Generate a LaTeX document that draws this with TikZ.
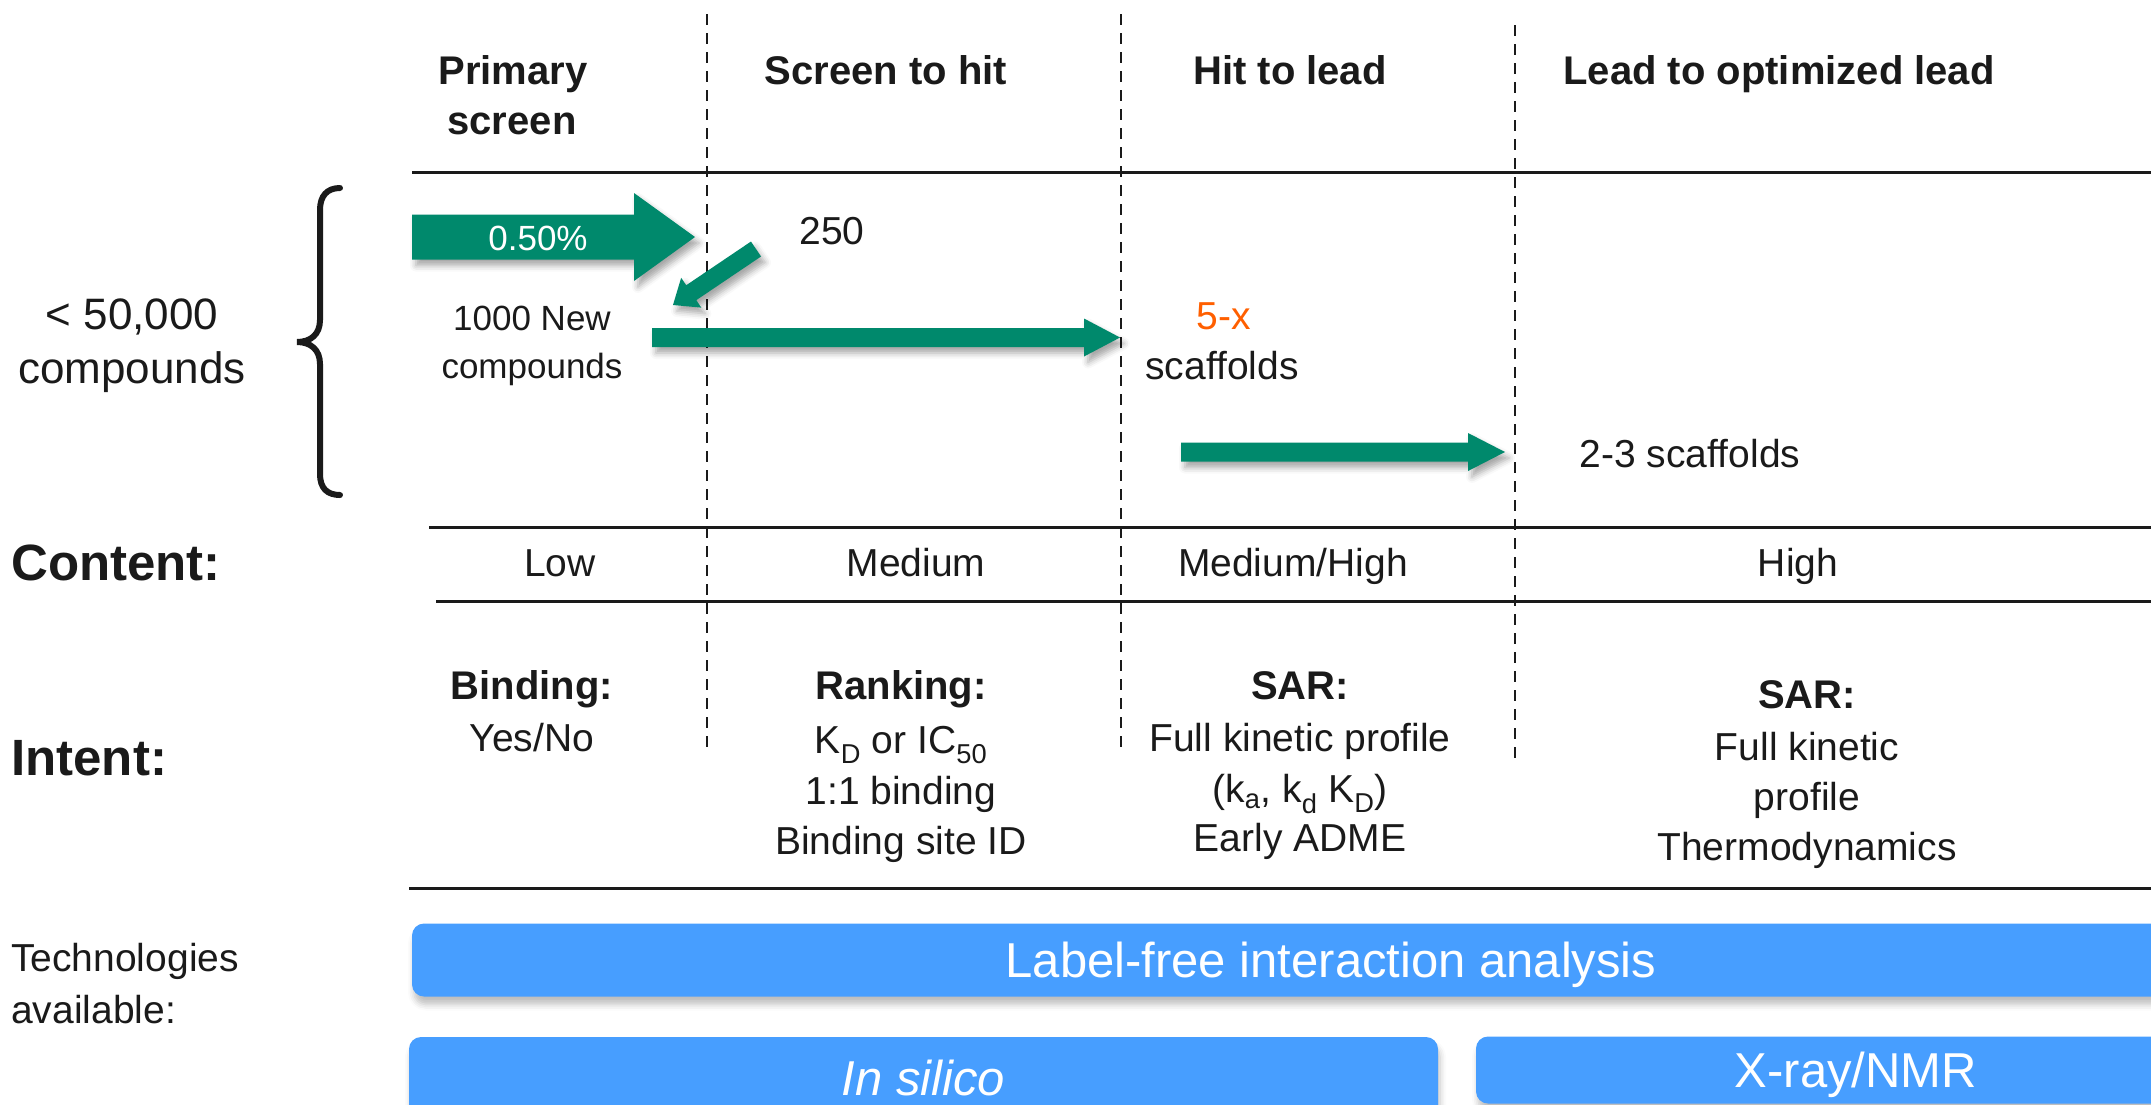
\documentclass[tikz,border=0pt]{standalone}
\usepackage{fontspec}
\setmainfont{Liberation Sans}
\usetikzlibrary{calc,shadows.blur}

\definecolor{ink}{HTML}{1A1A1A}
\definecolor{arrgreen}{HTML}{00896C}
\definecolor{barblue}{HTML}{479EFF}
\definecolor{hot}{HTML}{FF5F00}

\newcommand{\fsz}[1]{\fontsize{#1}{#1}\selectfont}

% fat block arrow from #2 to #3: half shaft #4, head length #5, half head width #6
\newcommand{\fatarr}[6][]{%
  \coordinate (fa-b) at ($(#3)!#5!(#2)$);
  \fill[arrowfill,#1] ($(#2)!#4!90:(#3)$) -- ($(fa-b)!#4!90:(#3)$)
    -- ($(fa-b)!#6!90:(#3)$) -- (#3) -- ($(fa-b)!#6!-90:(#3)$)
    -- ($(fa-b)!#4!-90:(#3)$) -- ($(#2)!#4!-90:(#3)$) -- cycle;}

\tikzset{
  body/.style={inner sep=0pt, text=ink, font=\fsz{39}, text height=28pt, text depth=0pt},
  small/.style={body, font=\fsz{35}, text height=25pt},
  big/.style={body, font=\fsz{44}, text height=31pt},
  head/.style={body, font=\fsz{40}\bfseries, text height=29pt},
  rowlabel/.style={body, anchor=west, font=\fsz{51}\bfseries, text height=37pt},
  rule/.style={line width=3pt, draw=ink},
  sep/.style={line width=2.5pt, draw=ink, dash pattern=on 11pt off 8pt},
  arrowfill/.style={fill=arrgreen, blur shadow={shadow xshift=4pt, shadow yshift=-6pt,
      shadow blur radius=6pt, shadow opacity=35}},
  bar/.style={fill=barblue, rounded corners=12pt, inner sep=0pt, text=white,
      font=\fsz{49}, text height=35pt, text depth=0pt,
      blur shadow={shadow xshift=2pt, shadow yshift=-8pt, shadow blur radius=6pt, shadow opacity=25}},
}

\begin{document}
\begin{tikzpicture}[x=1pt,y=-1pt]
\useasboundingbox (0,0) rectangle (2151,1104);
\clip (0,0) rectangle (2151,1104);

% stage separators
\coordinate (d1t) at (707,14);  \coordinate (d1b) at (707,752);
\coordinate (d2t) at (1121,14); \coordinate (d2b) at (1121,752);
\coordinate (d3t) at (1515,25); \coordinate (d3b) at (1515,763);
\draw[sep] (d1t) -- (d1b);
\draw[sep] (d2t) -- (d2b);
\draw[sep] (d3t) -- (d3b);

% horizontal rules
\draw[rule] (412,172) -- (2151,172);
\draw[rule] (429,527) -- (2151,527);
\draw[rule] (436,601) -- (2151,601);
\draw[rule] (409,888) -- (2151,888);

% stage headings
\node[head] (h1a) at (513,70)  {Primary};
\node[head] (h1b) at (512,120) {screen};
\node[head] (h2)  at (886,70)  {Screen to hit};
\node[head] (h3)  at (1290,70) {Hit to lead};
\node[head] (h4)  at (1779,70) {Lead to optimized lead};

% library size with brace
\draw[line width=6pt, ink, line cap=round]
  (340,188) .. controls (327,188) and (320,196) .. (320,210) -- (320,320)
  .. controls (320,334) and (311,342) .. (297,342)
  .. controls (311,342) and (320,350) .. (320,364) -- (320,474)
  .. controls (320,488) and (327,495) .. (340,495);
\node[big] (lib1) at (132,314) {< 50,000};
\node[big] (lib2) at (132,368) {compounds};

% funnel arrows
\coordinate (a1s) at (412,237);  \coordinate (a1e) at (695,237);
\coordinate (a2s) at (756,249);  \coordinate (a2e) at (673,305);
\coordinate (a3s) at (652,337.5); \coordinate (a3e) at (1120,337.5);
\coordinate (a4s) at (1181,452); \coordinate (a4e) at (1505,452);
\fatarr{a1s}{a1e}{22.5pt}{61pt}{44pt}
\fatarr{a2s}{a2e}{9pt}{22pt}{18pt}
\fatarr{a3s}{a3e}{9.5pt}{36pt}{19pt}
\fatarr{a4s}{a4e}{9.5pt}{37pt}{19pt}

\node[small, text=white] (pct) at (538,238) {0.50\%};
\node[body] (n250) at (832,230) {250};
\node[small] (new1) at (532,318) {1000 New};
\node[small] (new2) at (532,366) {compounds};
\node[body, text=hot] (fivex) at (1224,315) {5-x};
\node[body] (scaf1) at (1222,365) {scaffolds};
\node[body] (scaf2) at (1690,453) {2-3 scaffolds};

% content row
\node[rowlabel] (content) at (11,562) {Content:};
\node[body] (c1) at (560,562)  {Low};
\node[body] (c2) at (916,562)  {Medium};
\node[body] (c3) at (1293,562) {Medium/High};
\node[body] (c4) at (1798,562) {High};

% intent row
\node[rowlabel] (intent) at (11,757) {Intent:};
\node[head] (i1a) at (532,685) {Binding:};
\node[body] (i1b) at (532,737) {Yes/No};
\node[head] (i2a) at (901,685) {Ranking:};
\node[body] (i2b) at (901,739) {K\textsubscript{D} or IC\textsubscript{50}};
\node[body] (i2c) at (901,790) {1:1 binding};
\node[body] (i2d) at (901,840) {Binding site ID};
\node[head] (i3a) at (1300,685) {SAR:};
\node[body] (i3b) at (1300,737) {Full kinetic profile};
\node[body] (i3c) at (1300,788) {(k\textsubscript{a}, k\textsubscript{d} K\textsubscript{D})};
\node[body] (i3d) at (1300,837) {Early ADME};
\node[head] (i4a) at (1807,694) {SAR:};
\node[body] (i4b) at (1807,746) {Full kinetic};
\node[body] (i4c) at (1807,796) {profile};
\node[body] (i4d) at (1807,846) {Thermodynamics};

% technologies
\node[body, anchor=west] (tech1) at (11,957)  {Technologies};
\node[body, anchor=west] (tech2) at (11,1009) {available:};
\node[bar, minimum width=1838pt, minimum height=73pt] (lfa) at (1331,960) {Label-free interaction analysis};
\node[bar, minimum width=1029pt, minimum height=82pt] (insil) at (923.5,1078) {\itshape In silico};
\node[bar, minimum width=760pt, minimum height=67pt] (xray) at (1856,1070) {X-ray/NMR};
\end{tikzpicture}
\end{document}
